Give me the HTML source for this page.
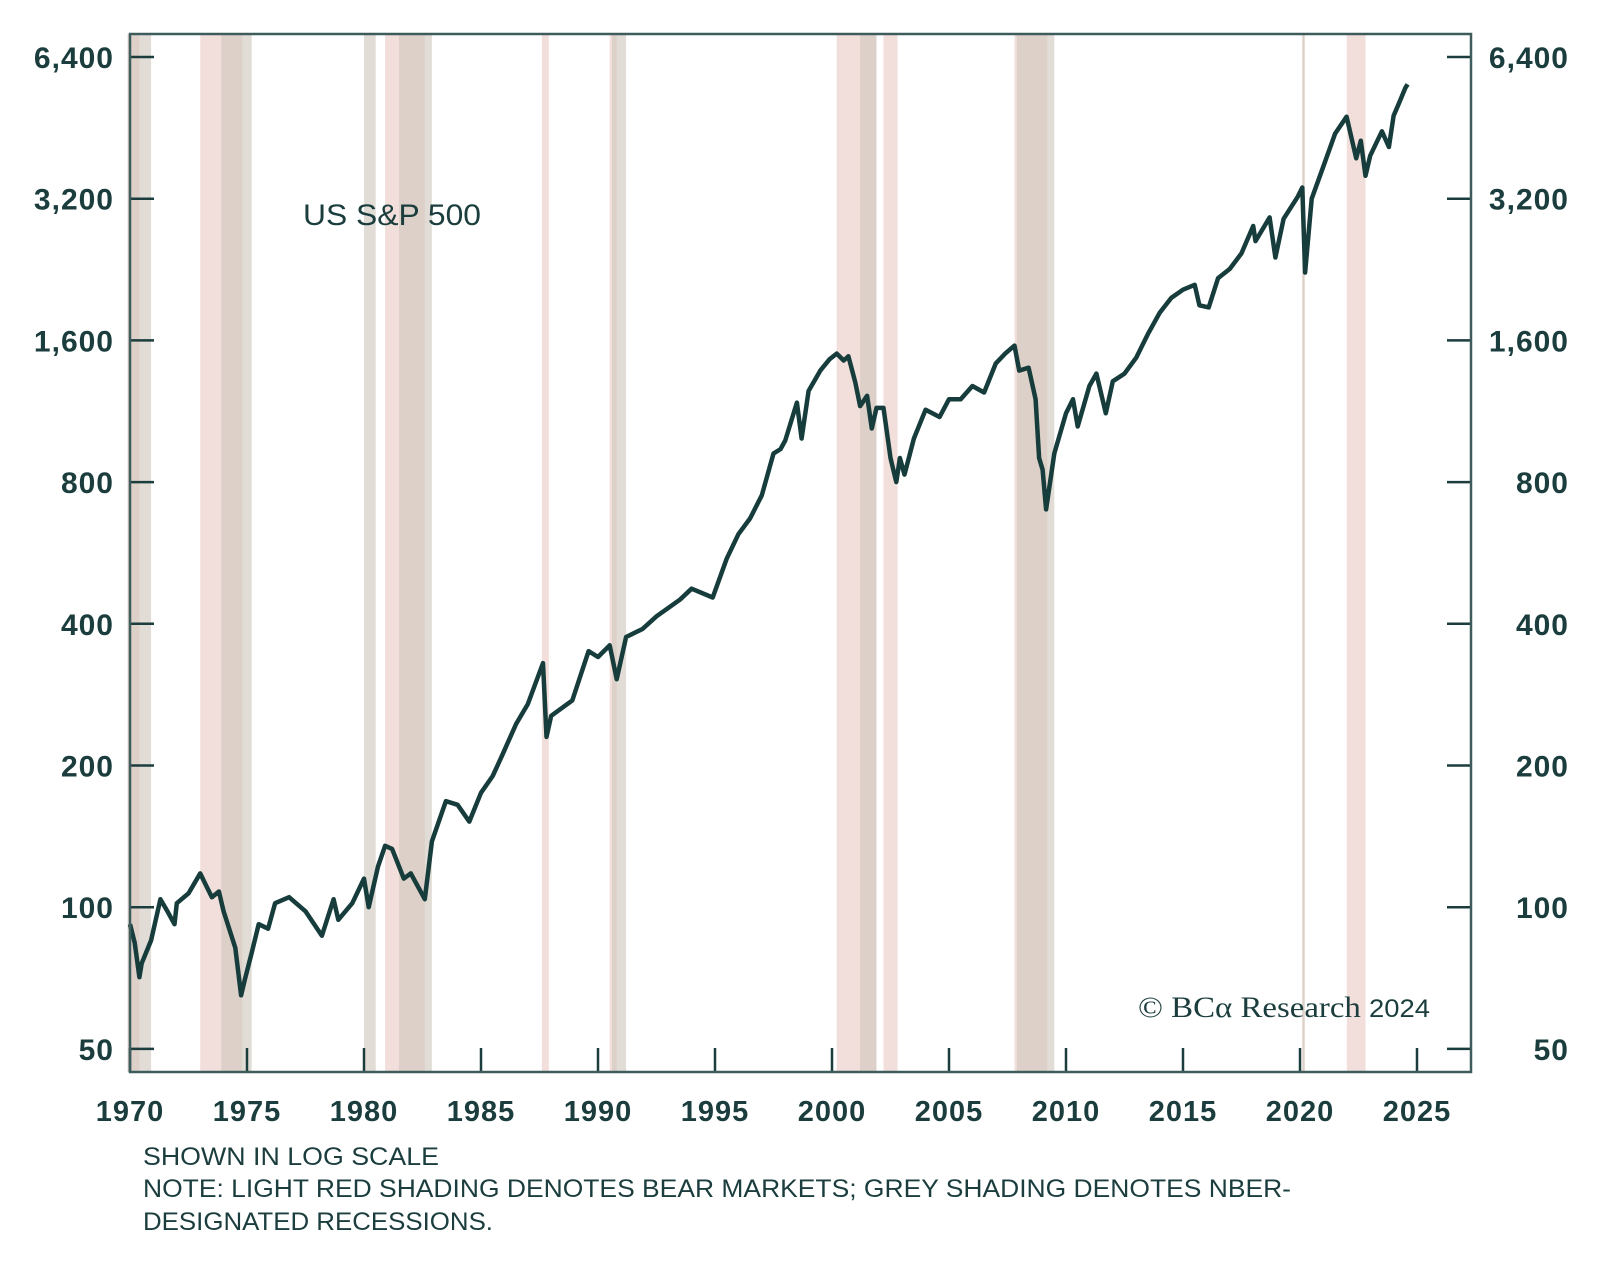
<!DOCTYPE html>
<html><head><meta charset="utf-8"><style>
body{margin:0;background:#fff}
svg{display:block}
text{font-family:"Liberation Sans",sans-serif;fill:#1b3d3d}
</style></head><body>
<svg id="c" width="1600" height="1279" viewBox="0 0 1600 1279">
<g id="bands"></g>
<g id="grid"></g>
<path id="line" fill="none" stroke="#173c3c" stroke-width="4.5" stroke-linejoin="round"/>
<rect x="130" y="34" width="1341" height="1038" fill="none" stroke="#3e5c5c" stroke-width="2.5"/>
<text x="303" y="225" font-size="30" textLength="178" lengthAdjust="spacingAndGlyphs">US S&amp;P 500</text>
<text x="1430" y="1017" font-size="30" text-anchor="end" textLength="292" lengthAdjust="spacingAndGlyphs" style="font-family:'Liberation Serif',serif">© BCα Research <tspan font-size="25" style="font-family:'Liberation Sans',sans-serif">2024</tspan></text>
<text x="143" y="1165" font-size="25" textLength="296" lengthAdjust="spacingAndGlyphs">SHOWN IN LOG SCALE</text>
<text x="143" y="1197" font-size="25" textLength="1148" lengthAdjust="spacingAndGlyphs">NOTE: LIGHT RED SHADING DENOTES BEAR MARKETS; GREY SHADING DENOTES NBER-</text>
<text x="143" y="1230" font-size="25" textLength="350" lengthAdjust="spacingAndGlyphs">DESIGNATED RECESSIONS.</text>
</svg>
<script>
const yTicks=[50,100,200,400,800,1600,3200,6400];
const yTickLabels=["50","100","200","400","800","1,600","3,200","6,400"];
const xTicks=[1970,1975,1980,1985,1990,1995,2000,2005,2010,2015,2020,2025];
const bearStarts=[1969.9,1973.0,1980.9,1987.6,1990.5,2000.2,2002.2,2007.8,2020.1,2022.0];
const bearEnds=[1970.4,1974.8,1982.6,1987.9,1990.8,2001.9,2002.8,2009.2,2020.2,2022.8];
const recStarts=[1969.9,1973.9,1980.0,1981.5,1990.6,2001.2,2007.9,2020.1];
const recEnds=[1970.9,1975.2,1980.5,1982.9,1991.2,2001.9,2009.5,2020.2];
const years=[1970.0,1970.2,1970.4,1970.5,1970.9,1971.3,1971.6,1971.9,1972.0,1972.5,1973.0,1973.3,1973.5,1973.8,1974.0,1974.5,1974.75,1974.9,1975.2,1975.5,1975.9,1976.2,1976.8,1977.5,1978.2,1978.7,1978.9,1979.5,1980.0,1980.2,1980.6,1980.9,1981.2,1981.7,1982.0,1982.6,1982.9,1983.5,1984.0,1984.5,1985.0,1985.5,1985.9,1986.5,1987.0,1987.65,1987.8,1988.0,1988.9,1989.6,1990.0,1990.5,1990.8,1991.2,1991.9,1992.5,1993.5,1994.0,1994.9,1995.5,1996.0,1996.5,1997.0,1997.5,1997.8,1998.0,1998.5,1998.7,1999.0,1999.5,1999.9,2000.2,2000.5,2000.7,2001.0,2001.2,2001.5,2001.7,2001.9,2002.2,2002.5,2002.75,2002.9,2003.1,2003.5,2004.0,2004.6,2005.0,2005.5,2006.0,2006.5,2007.0,2007.4,2007.8,2008.0,2008.4,2008.7,2008.85,2009.0,2009.15,2009.5,2010.0,2010.3,2010.5,2011.0,2011.3,2011.7,2012.0,2012.5,2013.0,2013.5,2014.0,2014.5,2015.0,2015.5,2015.7,2016.1,2016.5,2017.0,2017.5,2018.0,2018.1,2018.7,2018.95,2019.3,2019.9,2020.1,2020.22,2020.5,2021.0,2021.5,2021.99,2022.4,2022.6,2022.8,2023.0,2023.5,2023.8,2024.0,2024.3,2024.5,2024.6];
const values=[92,84,71,76,85,104,98,92,102,107,118,110,105,108,98,82,65,70,80,92,90,102,105,98,87,104,94,102,115,100,122,135,133,115,118,104,138,168,165,152,175,190,210,245,270,330,230,255,275,350,340,360,305,375,390,415,450,475,455,550,620,670,750,920,940,980,1180,990,1250,1380,1460,1500,1450,1480,1300,1160,1220,1040,1150,1150,900,800,900,830,990,1140,1100,1200,1200,1280,1240,1430,1500,1560,1380,1400,1200,900,850,700,920,1120,1200,1050,1280,1360,1120,1310,1360,1470,1650,1830,1970,2050,2100,1900,1880,2170,2270,2450,2800,2600,2920,2400,2900,3230,3380,2230,3200,3750,4400,4780,3900,4250,3580,3950,4450,4120,4800,5200,5500,5600];
const L=130,R=1471,T=34,B=1072;
const x=y=>130+(y-1970)*23.4;
const yv=v=>57+Math.log2(6400/v)*141.7;
const NS="http://www.w3.org/2000/svg";
const bands=document.getElementById('bands'),grid=document.getElementById('grid');
function band(a,b,col,name){const r=document.createElementNS(NS,'rect');
r.setAttribute('x',x(a));r.setAttribute('y',T);r.setAttribute('width',Math.max(2,x(b)-x(a)));r.setAttribute('height',B-T);r.setAttribute('fill',col);


bands.appendChild(r);}
bearStarts.forEach((s,i)=>band(s,bearEnds[i],'#f2dfdb','bear-market-band'));
recStarts.forEach((s,i)=>band(s,recEnds[i],'rgba(205,198,186,0.6)','recession-band'));
function line(x1,y1,x2,y2,name){const l=document.createElementNS(NS,'line');
l.setAttribute('x1',x1);l.setAttribute('y1',y1);l.setAttribute('x2',x2);l.setAttribute('y2',y2);l.setAttribute('stroke','#1b3d3d');l.setAttribute('stroke-width','2.5');


grid.appendChild(l);}
function txt(s,X,Y,anchor,size,name){const t=document.createElementNS(NS,'text');t.textContent=s;
t.setAttribute('x',X);t.setAttribute('y',Y);t.setAttribute('text-anchor',anchor);t.setAttribute('font-size',size);t.setAttribute('font-weight','bold');t.setAttribute('letter-spacing','1');


grid.appendChild(t);}
yTicks.forEach((v,i)=>{const Y=yv(v);line(L,Y,L+24,Y,'y-tick-left');line(R-24,Y,R,Y,'y-tick-right');
txt(yTickLabels[i],114,Y+11,'end',30,'y-tick-label-left');txt(yTickLabels[i],1569,Y+11,'end',30,'y-tick-label-right');});
xTicks.forEach(yr=>{const X=x(yr);line(X,B,X,B-24,'x-tick');txt(String(yr),X,1121,'middle',29,'x-tick-label');});
document.getElementById('line').setAttribute('d',years.map((yr,i)=>(i?'L':'M')+x(yr).toFixed(1)+','+yv(values[i]).toFixed(1)).join(''));
</script>
</body></html>
